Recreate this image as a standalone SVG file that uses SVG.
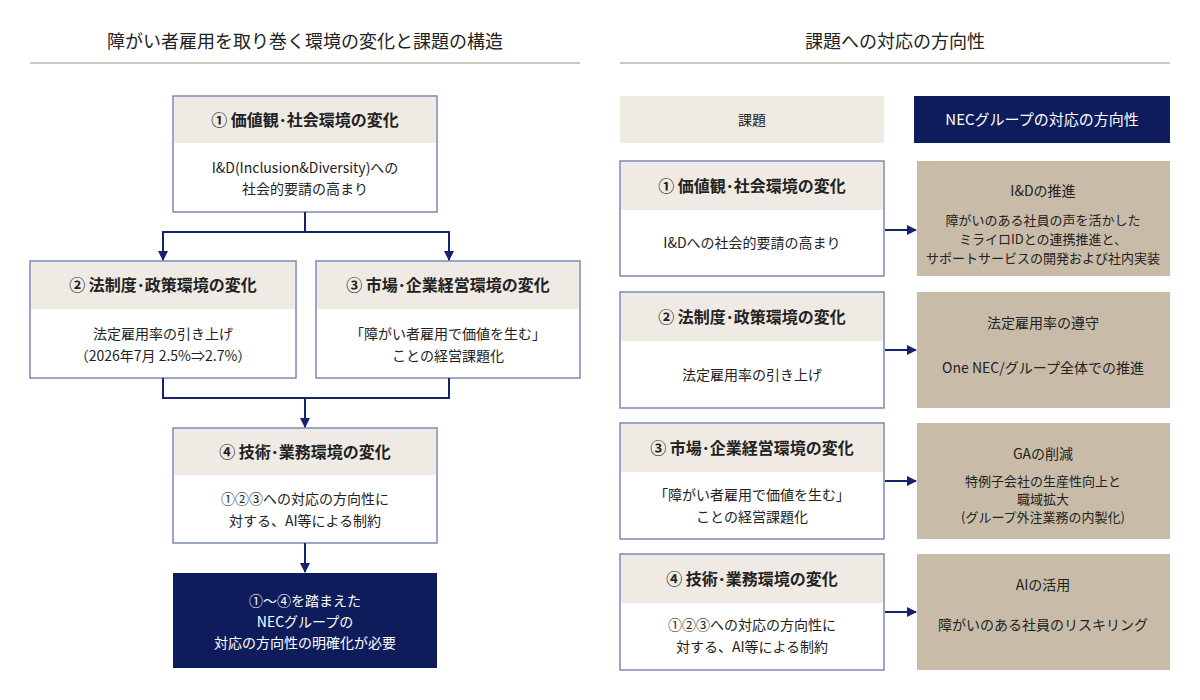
<svg xmlns="http://www.w3.org/2000/svg" width="1200" height="700" viewBox="0 0 1200 700">
<defs>
<marker id="ah" markerWidth="10" markerHeight="10" refX="9" refY="5" orient="auto" markerUnits="userSpaceOnUse"><path d="M0,0 L10,5 L0,10 z" fill="#14236a"/></marker>
<style>
text{font-family:"Noto Sans CJK JP","Noto Sans",sans-serif;fill:#222;text-anchor:middle}
.ttl{font-size:18px}
.hd{font-size:16px;font-weight:bold}
.bd{font-size:14px}
.sm{font-size:13px}
.box{fill:#fff;stroke:#7c88b5;stroke-width:1.5}
.hf{fill:#efebe4}
.tan{fill:#c8bca8}
.navy{fill:#0f1c5c}
.w{fill:#fff}
.cn{fill:none;stroke:#14236a;stroke-width:2}
</style>
</defs>
<rect width="1200" height="700" fill="#fff"/>
<text class="ttl" x="305" y="48">障がい者雇用を取り巻く環境の変化と課題の構造</text>
<line x1="30" y1="63" x2="580" y2="63" stroke="#9a8f80"/>
<text class="ttl" x="895" y="48">課題への対応の方向性</text>
<line x1="620" y1="63" x2="1170" y2="63" stroke="#9a8f80"/>

<g id="n1"><rect class="box" x="173" y="96" width="264" height="116"/><rect class="hf" x="174" y="97" width="262" height="46"/>
<text class="hd" x="305" y="126">① 価値観･社会環境の変化</text>
<text class="bd" x="305" y="173">I&amp;D(Inclusion&amp;Diversity)への</text><text class="bd" x="305" y="194">社会的要請の高まり</text></g>
<g id="n2"><rect class="box" x="30" y="261" width="266" height="117"/><rect class="hf" x="31" y="262" width="264" height="47"/>
<text class="hd" x="163" y="291">② 法制度･政策環境の変化</text>
<text class="bd" x="163" y="339">法定雇用率の引き上げ</text><text class="bd" x="163" y="361">（2026年7月 2.5%⇒2.7%）</text></g>
<g id="n3"><rect class="box" x="316" y="261" width="264" height="117"/><rect class="hf" x="317" y="262" width="262" height="47"/>
<text class="hd" x="448" y="291">③ 市場･企業経営環境の変化</text>
<text class="bd" x="448" y="339">「障がい者雇用で価値を生む」</text><text class="bd" x="448" y="361">ことの経営課題化</text></g>
<g id="n4"><rect class="box" x="173" y="428" width="264" height="115"/><rect class="hf" x="174" y="429" width="262" height="46"/>
<text class="hd" x="305" y="458">④ 技術･業務環境の変化</text>
<text class="bd" x="305" y="504">①②③への対応の方向性に</text><text class="bd" x="305" y="526">対する、AI等による制約</text></g>
<g id="n5"><rect class="navy" x="173" y="573" width="264" height="95"/>
<text class="bd w" x="305" y="606">①～④を踏まえた</text><text class="bd w" x="305" y="627">NECグループの</text><text class="bd w" x="305" y="648">対応の方向性の明確化が必要</text></g>

<g id="h1"><rect class="hf" x="620" y="96" width="264" height="47"/><text class="bd" x="752" y="125">課題</text></g>
<g id="h2"><rect class="navy" x="914" y="96" width="256" height="47"/><text class="bd w" x="1042" y="125" style="font-size:15px">NECグループの対応の方向性</text></g>

<g id="r1"><rect class="box" x="620" y="161" width="264" height="115"/><rect class="hf" x="621" y="162" width="262" height="48"/>
<text class="hd" x="752" y="192">① 価値観･社会環境の変化</text><text class="bd" x="752" y="248">I&amp;Dへの社会的要請の高まり</text></g>
<g id="a1"><rect class="tan" x="917" y="161" width="253" height="115"/>
<text class="bd" x="1043" y="196">I&amp;Dの推進</text>
<text class="sm" x="1043" y="225">障がいのある社員の声を活かした</text><text class="sm" x="1043" y="244">ミライロIDとの連携推進と、</text><text class="sm" x="1043" y="263">サポートサービスの開発および社内実装</text></g>

<g id="r2"><rect class="box" x="620" y="292" width="264" height="116"/><rect class="hf" x="621" y="293" width="262" height="48"/>
<text class="hd" x="752" y="323">② 法制度･政策環境の変化</text><text class="bd" x="752" y="380">法定雇用率の引き上げ</text></g>
<g id="a2"><rect class="tan" x="917" y="292" width="253" height="116"/>
<text class="bd" x="1043" y="328">法定雇用率の遵守</text><text class="bd" x="1043" y="373">One NEC/グループ全体での推進</text></g>

<g id="r3"><rect class="box" x="620" y="423" width="264" height="116"/><rect class="hf" x="621" y="424" width="262" height="48"/>
<text class="hd" x="752" y="454">③ 市場･企業経営環境の変化</text><text class="bd" x="752" y="500">「障がい者雇用で価値を生む」</text><text class="bd" x="752" y="522">ことの経営課題化</text></g>
<g id="a3"><rect class="tan" x="917" y="423" width="253" height="116"/>
<text class="bd" x="1043" y="459">GAの削減</text>
<text class="sm" x="1043" y="486">特例子会社の生産性向上と</text><text class="sm" x="1043" y="504">職域拡大</text><text class="sm" x="1043" y="522">(グループ外注業務の内製化)</text></g>

<g id="r4"><rect class="box" x="620" y="554" width="264" height="116"/><rect class="hf" x="621" y="555" width="262" height="48"/>
<text class="hd" x="752" y="585">④ 技術･業務環境の変化</text><text class="bd" x="752" y="630">①②③への対応の方向性に</text><text class="bd" x="752" y="652">対する、AI等による制約</text></g>
<g id="a4"><rect class="tan" x="917" y="554" width="253" height="116"/>
<text class="bd" x="1043" y="590">AIの活用</text><text class="bd" x="1043" y="630">障がいのある社員のリスキリング</text></g>

<g id="connectors">
<path class="cn" d="M305,212 V232 H163 V260" marker-end="url(#ah)"/>
<path class="cn" d="M305,232 H449 V260" marker-end="url(#ah)"/>
<path class="cn" d="M163,378 V398 H449 V378"/>
<path class="cn" d="M305,398 V427" marker-end="url(#ah)"/>
<path class="cn" d="M305,543 V572" marker-end="url(#ah)"/>
<path class="cn" d="M885,230 H916" marker-end="url(#ah)"/>
<path class="cn" d="M885,350 H916" marker-end="url(#ah)"/>
<path class="cn" d="M885,481 H916" marker-end="url(#ah)"/>
<path class="cn" d="M885,612 H916" marker-end="url(#ah)"/>
</g>
</svg>
